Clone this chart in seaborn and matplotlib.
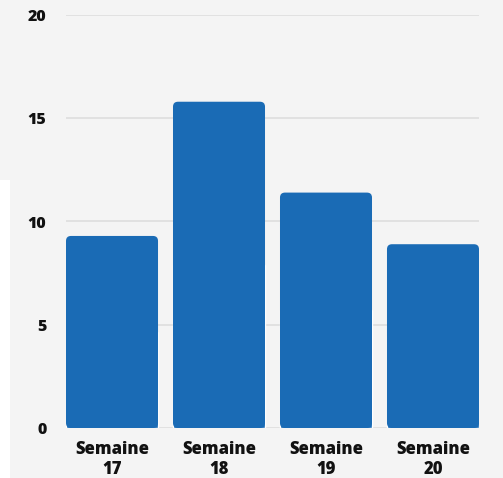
import pandas as pd
import matplotlib.pyplot as plt
import seaborn as sns
from matplotlib.patches import FancyBboxPatch, Rectangle

semaines = ["Semaine\n17", "Semaine\n18", "Semaine\n19", "Semaine\n20"]
valeurs = [9.3, 15.8, 11.4, 8.9]
ticks_y = [0, 5, 10, 15, 20]

bleu = "#1a6bb5"
fond = "#f4f4f4"

sns.set_style("white")
plt.rcParams['font.family'] = ['Open Sans', 'DejaVu Sans']

fig = plt.figure(figsize=(5.03, 4.78), dpi=100)
fig.patch.set_facecolor(fond)
# bande blanche a gauche (artefact de la capture)
fig.patches.append(Rectangle((0, 0), 10/503, 298/478, transform=fig.transFigure,
                             facecolor="white", edgecolor="none", zorder=-1))

ax = fig.add_axes([66/503, 50/478, 413/503, 413/478])
ax.set_facecolor(fond)

df = pd.DataFrame({"semaine": semaines, "valeur": valeurs})
sns.barplot(data=df, x="semaine", y="valeur", color=bleu, saturation=1,
            width=0.86, ax=ax, zorder=3)

# coins arrondis en haut des barres
px_x = 413 / 3.86
px_y = 413 / 20
r = 5
for p in list(ax.patches):
    x0, y0 = p.get_x(), p.get_y()
    w, h = p.get_width(), p.get_height()
    arr = FancyBboxPatch((x0, y0), w, h,
                         boxstyle="round,pad=0,rounding_size=%f" % (r / px_x),
                         mutation_aspect=px_x / px_y,
                         facecolor=bleu, edgecolor="none", zorder=3)
    ax.add_patch(arr)
    p.set_height(h / 2)

ax.set_xlim(-0.43, 3.43)
ax.set_ylim(0, 20)
ax.set_yticks(ticks_y)
ax.yaxis.grid(True, color="#dedede", lw=1.2, zorder=0)
ax.set_axisbelow(True)
for s in ax.spines.values():
    s.set_visible(False)
ax.set_xlabel("")
ax.set_ylabel("")
ax.tick_params(axis="x", length=0, labelsize=12, pad=9)
ax.tick_params(axis="y", length=0, labelsize=11.5, pad=14)
for lab in ax.get_xticklabels() + ax.get_yticklabels():
    lab.set_fontweight("heavy")
    lab.set_color("#111111")
for lab in ax.get_xticklabels():
    lab.set_linespacing(1.25)

fig.savefig("out.png", dpi=100, facecolor=fond)
